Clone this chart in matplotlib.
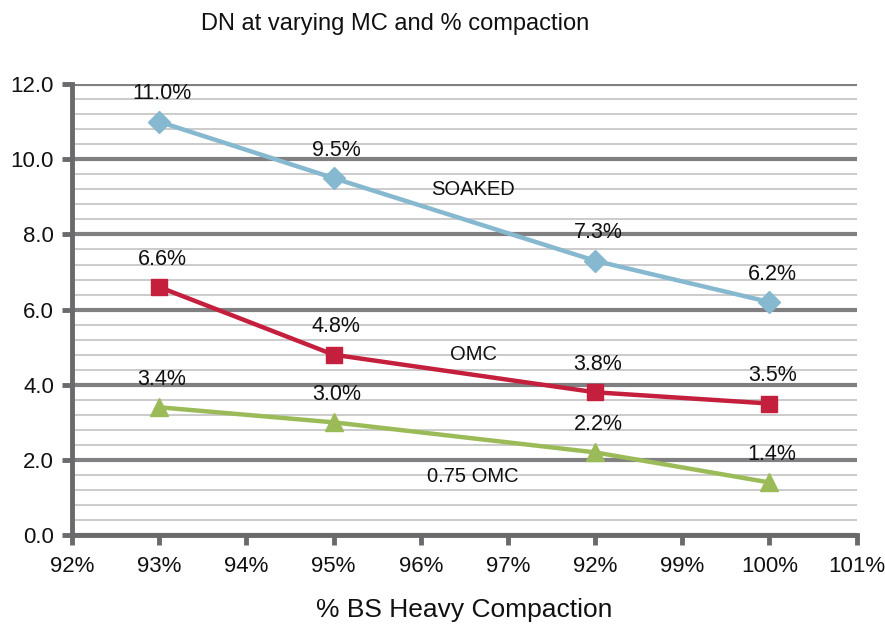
import numpy as np
import matplotlib
matplotlib.use("Agg")
import matplotlib.pyplot as plt
from matplotlib.ticker import MultipleLocator

plt.rcParams['font.family'] = ['Liberation Sans', 'DejaVu Sans']

# compaction positions on the axis; the third point is labelled 92% on the chart
compaction = [93, 95, 98, 100]
x_ticks = [92, 93, 94, 95, 96, 97, 98, 99, 100, 101]
x_tick_labels = ['92%', '93%', '94%', '95%', '96%', '97%', '92%', '99%', '100%', '101%']
y_ticks = [0, 2, 4, 6, 8, 10, 12]

soaked = [11.0, 9.5, 7.3, 6.2]
omc = [6.6, 4.8, 3.8, 3.5]
omc_075 = [3.4, 3.0, 2.2, 1.4]

series_names = ['SOAKED', 'OMC', '0.75 OMC']
name_positions = [(96.6, 9.2), (96.6, 4.8), (96.6, 1.55)]

fig = plt.figure(figsize=(8.85, 6.28), dpi=100)
ax = fig.add_axes([0.0814, 0.148, 0.8866, 0.718])

styles = [
    dict(color='#86B8CF', marker='D', ms=11.5),
    dict(color='#C51F3E', marker='s', ms=12),
    dict(color='#9BBB59', marker='^', ms=13),
]

for vals, st in zip([soaked, omc, omc_075], styles):
    ax.plot(compaction, vals, color=st['color'], lw=3.2, marker=st['marker'],
            ms=st['ms'], mec=st['color'], mfc=st['color'], zorder=3, clip_on=False)
    # value labels above each point
    for xv, yv in zip(compaction, vals):
        ax.annotate(f'{yv:.1f}%', (xv, yv), xytext=(2, 20), textcoords='offset points',
                    ha='center', va='center', fontsize=15.5, color='#111111')

for name, (xn, yn) in zip(series_names, name_positions):
    ax.text(xn, yn, name, ha='center', va='center', fontsize=14.5, color='#111111')

ax.set_xlim(92, 101)
ax.set_ylim(0, 12)
ax.set_xticks(x_ticks)
ax.set_xticklabels(x_tick_labels)
ax.set_yticks(y_ticks)
ax.set_yticklabels([f'{v:.1f}' for v in y_ticks])
ax.yaxis.set_minor_locator(MultipleLocator(0.4))

ax.grid(axis='y', which='major', color='#808083', lw=3, zorder=1)
ax.grid(axis='y', which='minor', color='#CBCBCB', lw=1.4, zorder=0)
ax.set_axisbelow(True)

for side in ['top', 'right']:
    ax.spines[side].set_visible(False)
for side in ['left', 'bottom']:
    ax.spines[side].set_color('#6A6A6C')
    ax.spines[side].set_linewidth(3.5)
    ax.spines[side].set_zorder(2)

ax.tick_params(axis='both', which='major', direction='out', length=7, width=3.5,
               color='#6A6A6C', labelsize=16, labelcolor='#111111')
ax.tick_params(axis='y', which='minor', length=0)
ax.tick_params(axis='x', pad=8)
ax.tick_params(axis='y', pad=6)

ax.set_xlabel('% BS Heavy Compaction', fontsize=19, labelpad=15, color='#111111')
fig.text(0.447, 0.962, 'DN at varying MC and % compaction', ha='center', va='center',
         fontsize=17, color='#111111')

fig.savefig('out.png', dpi=100)
